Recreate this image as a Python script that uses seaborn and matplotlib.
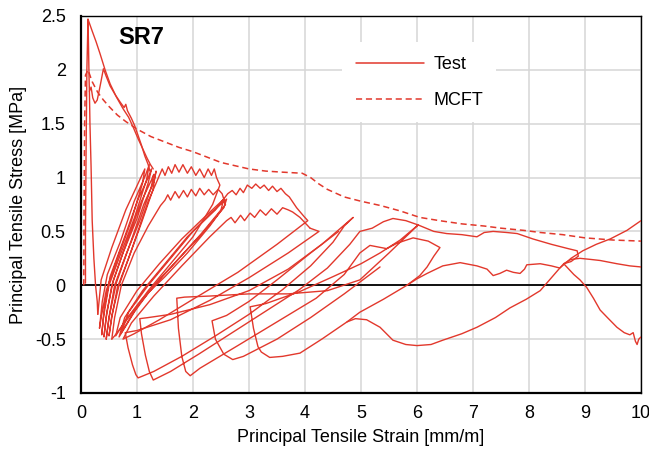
import numpy as np
import pandas as pd
import matplotlib
matplotlib.use("Agg")
import matplotlib.pyplot as plt
from matplotlib.lines import Line2D
import seaborn as sns

# MCFT prediction
mcft_strain = [0.05, 0.055, 0.065, 0.08, 0.125, 0.2, 0.3, 0.4, 0.5, 0.65, 0.8, 1.0, 1.25, 1.5, 1.75,
               2.0, 2.25, 2.5, 2.75, 3.0, 3.3, 3.6, 3.95, 4.1, 4.25, 4.4, 4.7, 5.0, 5.35, 5.7, 6.05,
               6.4, 6.8, 7.2, 7.5, 7.9, 8.2, 8.6, 9.0, 9.5, 10.0]
mcft_stress = [0.0, 0.7, 1.5, 1.95, 2.0, 1.89, 1.79, 1.72, 1.66, 1.58, 1.52, 1.45, 1.38, 1.33, 1.28,
               1.24, 1.19, 1.14, 1.11, 1.08, 1.06, 1.05, 1.04, 1.0, 0.94, 0.89, 0.82, 0.78, 0.74, 0.69, 0.63,
               0.6, 0.57, 0.55, 0.53, 0.51, 0.49, 0.47, 0.44, 0.42, 0.41]

# test record (strain, stress)
test_peak = [(0.08, 0.02), (0.08, 0.5), (0.09, 1.2), (0.105, 2.0), (0.125, 2.47), (0.135, 2.2),
             (0.145, 1.9), (0.15, 1.8), (0.16, 1.5), (0.18, 1.1), (0.2, 0.6), (0.23, 0.25),
             (0.26, 0.0), (0.29, -0.15), (0.3, -0.27)]

test_soft1 = [(0.125, 2.47), (0.2, 2.36), (0.27, 2.26), (0.34, 2.15), (0.43, 2.0), (0.52, 1.87),
              (0.63, 1.75), (0.75, 1.64), (0.85, 1.56), (0.93, 1.47), (1.02, 1.36), (1.1, 1.27),
              (1.18, 1.18), (1.24, 1.12), (1.29, 1.08)]

test_soft2 = [(0.15, 1.8), (0.18, 1.84), (0.21, 1.74), (0.25, 1.69), (0.29, 1.72), (0.33, 1.82),
              (0.36, 1.9), (0.4, 2.01), (0.45, 1.94), (0.52, 1.85), (0.61, 1.77), (0.7, 1.7),
              (0.77, 1.65), (0.8, 1.68), (0.83, 1.62), (0.9, 1.55), (0.96, 1.48), (1.02, 1.39),
              (1.08, 1.3), (1.14, 1.2), (1.2, 1.12), (1.23, 1.06)]

test_group1 = [(0.30, -0.27), (0.36, 0.05), (0.55, 0.35), (0.8, 0.7), (1.05, 0.98), (1.14, 1.08),
               (1.1, 0.95), (0.9, 0.6), (0.65, 0.25), (0.45, -0.05), (0.36, -0.3), (0.33, -0.4),
               (0.38, -0.15), (0.47, 0.1), (0.7, 0.4), (0.95, 0.78), (1.15, 1.02), (1.22, 1.12),
               (1.17, 0.98), (0.95, 0.62), (0.7, 0.28), (0.5, 0.0), (0.4, -0.3), (0.37, -0.46),
               (0.42, -0.2), (0.52, 0.08), (0.78, 0.45), (1.02, 0.8), (1.2, 1.0), (1.26, 1.08),
               (1.2, 0.95), (1.0, 0.62), (0.75, 0.3), (0.55, 0.0), (0.45, -0.3), (0.41, -0.48),
               (0.46, -0.25), (0.58, 0.05), (0.85, 0.45), (1.08, 0.78), (1.26, 0.98), (1.3, 1.03),
               (1.25, 0.9), (1.05, 0.6), (0.8, 0.28), (0.6, 0.0), (0.5, -0.3), (0.45, -0.5),
               (0.5, -0.3), (0.63, 0.02), (0.9, 0.42), (1.12, 0.75), (1.3, 0.96), (1.34, 1.06),
               (1.28, 0.88), (1.08, 0.58), (0.85, 0.25), (0.65, -0.02), (0.55, -0.3), (0.5, -0.47),
               (0.55, -0.28), (0.68, 0.0), (0.95, 0.4), (1.2, 0.78), (1.36, 0.97), (1.4, 1.02),
               (1.45, 1.08), (1.5, 1.02), (1.56, 1.1), (1.62, 1.04), (1.68, 1.12), (1.75, 1.05),
               (1.82, 1.12), (1.9, 1.04), (1.97, 1.1), (2.05, 1.02), (2.12, 1.08), (2.2, 1.0),
               (2.27, 1.08), (2.33, 1.02), (2.38, 1.08), (2.42, 1.0), (2.48, 0.93),
               (2.35, 0.75), (2.0, 0.45), (1.6, 0.2), (1.2, -0.05), (0.85, -0.3), (0.6, -0.47),
               (0.55, -0.5)]

test_group2 = [(0.55, -0.5), (0.6, -0.3), (0.72, 0.0), (0.95, 0.3), (1.2, 0.55), (1.42, 0.74),
               (1.5, 0.79), (1.55, 0.84), (1.6, 0.79), (1.68, 0.87), (1.75, 0.81), (1.83, 0.88),
               (1.9, 0.82), (1.97, 0.89), (2.05, 0.83), (2.12, 0.9), (2.2, 0.84), (2.28, 0.89),
               (2.36, 0.84), (2.45, 0.89), (2.52, 0.85), (2.58, 0.75),
               (2.3, 0.55), (1.9, 0.3), (1.5, 0.08), (1.1, -0.12), (0.8, -0.32), (0.62, -0.47),
               (0.7, -0.3), (1.0, -0.05), (1.4, 0.2), (1.8, 0.43), (2.2, 0.63), (2.55, 0.8),
               (2.5, 0.7), (2.15, 0.48), (1.7, 0.22), (1.3, 0.0), (0.95, -0.25), (0.68, -0.48),
               (0.78, -0.3), (1.1, -0.05), (1.5, 0.2), (1.9, 0.45), (2.3, 0.66), (2.6, 0.8),
               (2.55, 0.72), (2.2, 0.5), (1.75, 0.25), (1.35, 0.02), (1.0, -0.2), (0.72, -0.44),
               (0.85, -0.25), (1.2, 0.0), (1.6, 0.25), (2.0, 0.5), (2.4, 0.7), (2.62, 0.85),
               (2.7, 0.88), (2.77, 0.84), (2.84, 0.9), (2.9, 0.86), (2.97, 0.93), (3.05, 0.9),
               (3.12, 0.94), (3.2, 0.9), (3.27, 0.93), (3.35, 0.88), (3.42, 0.92), (3.5, 0.87),
               (3.57, 0.9), (3.65, 0.85), (3.72, 0.82), (3.85, 0.72), (3.98, 0.64), (4.05, 0.6),
               (3.5, 0.38), (2.8, 0.12), (2.0, -0.13), (1.4, -0.32), (0.95, -0.45), (0.75, -0.5),
               (0.9, -0.35), (1.3, -0.1), (1.8, 0.18), (2.3, 0.45), (2.6, 0.6),
               (2.68, 0.63), (2.75, 0.58), (2.85, 0.65), (2.92, 0.6), (3.02, 0.67), (3.1, 0.63),
               (3.2, 0.7), (3.3, 0.65), (3.4, 0.71), (3.5, 0.66), (3.6, 0.72), (3.7, 0.7),
               (3.78, 0.68), (3.91, 0.63), (4.0, 0.58), (4.09, 0.53)]

test_ramps = [(4.09, 0.53), (4.25, 0.5), (3.7, 0.3), (3.0, 0.07), (2.3, -0.14), (1.6, -0.32),
              (1.0, -0.42), (0.79, -0.44),
              (0.84, -0.58), (0.92, -0.74), (0.98, -0.83), (1.02, -0.86),
              (1.3, -0.8), (1.8, -0.66), (2.4, -0.47), (3.0, -0.27), (3.6, -0.04), (4.1, 0.18),
              (4.5, 0.4), (4.7, 0.55), (4.86, 0.63),
              (4.3, 0.38), (3.7, 0.15), (3.0, -0.05), (2.3, -0.18), (1.6, -0.27), (1.2, -0.3),
              (1.05, -0.31),
              (1.08, -0.45), (1.15, -0.65), (1.22, -0.8), (1.29, -0.88),
              (1.6, -0.8), (2.1, -0.64), (2.7, -0.44), (3.3, -0.24), (3.9, -0.04), (4.4, 0.16),
              (4.8, 0.38), (4.98, 0.5), (5.2, 0.53), (5.4, 0.59), (5.57, 0.62), (5.8, 0.6),
              (6.02, 0.56),
              (5.5, 0.3), (4.98, 0.05), (4.4, -0.05), (3.7, -0.08), (3.0, -0.08), (2.3, -0.1),
              (1.85, -0.11), (1.71, -0.12),
              (1.74, -0.4), (1.8, -0.66), (1.87, -0.8), (1.95, -0.84),
              (2.125, -0.77), (2.8, -0.56), (3.5, -0.34), (4.2, -0.12), (4.7, 0.1), (4.98, 0.3),
              (5.16, 0.37), (5.46, 0.34), (5.64, 0.39), (5.93, 0.44), (6.2, 0.41), (6.41, 0.35),
              (6.3, 0.27), (6.18, 0.17), (6.05, 0.09), (5.82, 0.0), (5.4, -0.13), (4.98, -0.25),
              (4.75, -0.34),
              (4.3, -0.5), (3.91, -0.63), (3.6, -0.66), (3.37, -0.67), (3.22, -0.62), (3.16, -0.57),
              (3.08, -0.4), (3.02, -0.2),
              (3.3, -0.17), (3.9, -0.06), (4.5, 0.08), (5.0, 0.2), (5.34, 0.3), (5.7, 0.42),
              (6.02, 0.56)]

test_loop5 = [(4.6, 0.5), (4.1, 0.3), (3.5, 0.05), (3.0, -0.15), (2.6, -0.28), (2.34, -0.33),
              (2.4, -0.5), (2.55, -0.64), (2.71, -0.69), (2.9, -0.66),
              (3.5, -0.5), (4.1, -0.3), (4.7, -0.08), (5.34, 0.17)]

test_upper_arc = [(5.82, 0.0), (6.0, 0.06), (6.18, 0.11), (6.46, 0.18), (6.77, 0.21), (7.07, 0.18),
                  (7.25, 0.15), (7.36, 0.09), (7.48, 0.11), (7.6, 0.14), (7.72, 0.12), (7.84, 0.11),
                  (7.92, 0.15), (7.96, 0.19), (8.2, 0.2), (8.4, 0.18), (8.55, 0.16), (8.62, 0.2)]

test_lower_arc = [(4.75, -0.34), (4.9, -0.31), (5.1, -0.32), (5.34, -0.39), (5.57, -0.51),
                  (5.8, -0.55), (6.0, -0.56), (6.25, -0.55), (6.46, -0.51), (6.8, -0.45),
                  (7.07, -0.39), (7.4, -0.3), (7.66, -0.21), (7.95, -0.13), (8.2, -0.05),
                  (8.4, 0.07), (8.55, 0.16), (8.75, 0.25), (8.96, 0.32), (9.2, 0.38),
                  (9.45, 0.43), (9.75, 0.51), (10.0, 0.6)]

test_long = [(6.02, 0.56), (6.3, 0.5), (6.53, 0.48), (6.8, 0.47), (7.07, 0.45), (7.2, 0.49),
             (7.36, 0.5), (7.6, 0.49), (7.79, 0.48), (8.07, 0.43), (8.4, 0.38), (8.7, 0.34),
             (8.86, 0.32), (8.88, 0.27), (8.75, 0.22), (8.62, 0.2)]

test_fall = [(8.62, 0.2), (8.8, 0.1), (8.91, 0.05), (9.03, -0.02), (9.15, -0.12), (9.27, -0.23),
             (9.4, -0.3), (9.57, -0.39), (9.7, -0.44), (9.8, -0.46), (9.86, -0.44), (9.9, -0.52),
             (9.93, -0.55), (9.96, -0.5), (10.0, -0.48)]

test_tail = [(8.62, 0.2), (8.75, 0.24), (8.91, 0.25), (9.1, 0.24), (9.27, 0.23), (9.57, 0.2),
             (9.8, 0.18), (10.0, 0.17)]

x_ticks = [0, 1, 2, 3, 4, 5, 6, 7, 8, 9, 10]
y_ticks = [-1, -0.5, 0, 0.5, 1, 1.5, 2, 2.5]
y_tick_labels = ["-1", "-0.5", "0", "0.5", "1", "1.5", "2", "2.5"]

segments = {"peak": test_peak, "soft1": test_soft1, "soft2": test_soft2, "group1": test_group1,
            "group2": test_group2, "ramps": test_ramps, "loop5": test_loop5,
            "upper_arc": test_upper_arc, "lower_arc": test_lower_arc, "long": test_long,
            "fall": test_fall, "tail": test_tail}
rows = []
for name, pts in segments.items():
    for x, y in pts:
        rows.append((name, x, y))
test_df = pd.DataFrame(rows, columns=["segment", "strain", "stress"])
mcft_df = pd.DataFrame({"strain": mcft_strain, "stress": mcft_stress})

sns.set_theme(style="white")
plt.rcParams["font.family"] = ["Liberation Sans", "DejaVu Sans"]
plt.rcParams["text.color"] = "black"
plt.rcParams["axes.labelcolor"] = "black"
plt.rcParams["xtick.color"] = "black"
plt.rcParams["ytick.color"] = "black"

red = "#e2382c"
fig = plt.figure(figsize=(6.49, 4.53), dpi=100)
ax = fig.add_axes([0.1248, 0.1325, 0.8629, 0.8322])

ax.set_xticks(x_ticks)
ax.set_yticks(y_ticks)
ax.set_yticklabels(y_tick_labels)
ax.grid(True, color="#d6d6d6", lw=1.1)
ax.set_axisbelow(True)
ax.axhline(0, color="black", lw=1.3, zorder=1.5)

sns.lineplot(data=test_df, x="strain", y="stress", units="segment", estimator=None, sort=False,
             color=red, lw=1.0, ax=ax, legend=False, zorder=3)
sns.lineplot(data=mcft_df, x="strain", y="stress", sort=False, color=red, lw=1.1, ax=ax,
             linestyle=(0, (4, 2.5)), zorder=3)

ax.set_xlim(0, 10)
ax.set_ylim(-1, 2.5)
for side in ["left", "bottom", "top", "right"]:
    ax.spines[side].set_color("black")
    ax.spines[side].set_linewidth(1.0)
ax.spines["left"].set_linewidth(1.6)
ax.spines["bottom"].set_linewidth(1.6)

ax.tick_params(axis="both", length=0, labelsize=13, labelcolor="black")
ax.tick_params(axis="x", pad=9)
ax.tick_params(axis="y", pad=11)
ax.set_xlabel("Principal Tensile Strain [mm/m]", fontsize=13, labelpad=5, color="black")
ax.set_ylabel("Principal Tensile Stress [MPa]", fontsize=13, labelpad=6, color="black")

ax.text(0.066, 0.942, "SR7", transform=ax.transAxes, fontsize=17, fontweight="bold",
        ha="left", va="center", color="black")

handles = [Line2D([], [], color=red, lw=1.1),
           Line2D([], [], color=red, lw=1.1, linestyle=(0, (4, 2.5)))]
leg = ax.legend(handles, ["Test", "MCFT"], loc="upper left", bbox_to_anchor=(0.466, 0.93),
                frameon=True, fancybox=False, edgecolor="none", facecolor="white",
                framealpha=1, fontsize=13, handlelength=3.8, handletextpad=0.5,
                labelspacing=1.05, borderpad=0.75, borderaxespad=0)
for t in leg.get_texts():
    t.set_color("black")

fig.savefig("out.png", dpi=100)
